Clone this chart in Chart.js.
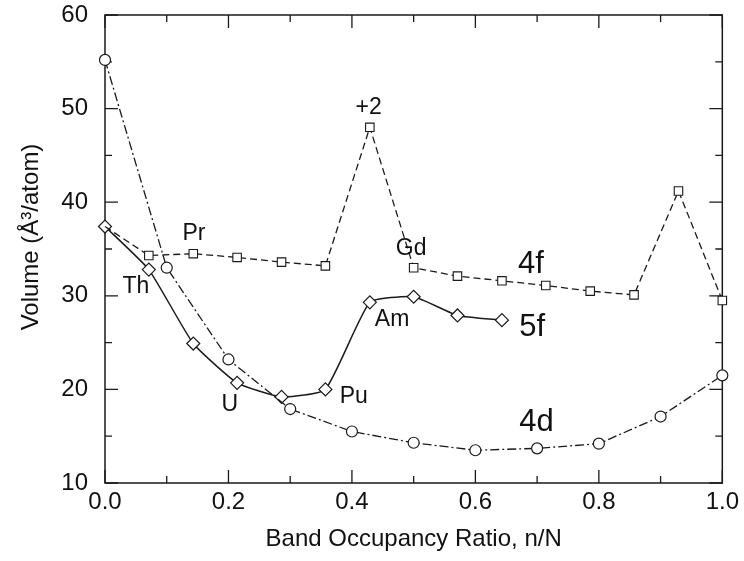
<!DOCTYPE html>
<html>
<head>
<meta charset="utf-8">
<script src="https://cdn.jsdelivr.net/npm/chart.js@4/dist/chart.umd.min.js"></script>
<style>
  html, body { margin: 0; padding: 0; background: #ffffff; }
  canvas { display: block; }
</style>
</head>
<body>
<canvas id="c" width="744" height="561"></canvas>
<script>
// ---- data ----
const x4f = [0, 0.071, 0.143, 0.214, 0.286, 0.357, 0.429, 0.5, 0.571, 0.643, 0.714, 0.786, 0.857, 0.929, 1.0];
const v4f = [37.4, 34.3, 34.5, 34.1, 33.6, 33.2, 48.0, 33.0, 32.1, 31.6, 31.1, 30.5, 30.1, 41.2, 29.5];

const x5f = [0, 0.071, 0.143, 0.214, 0.286, 0.357, 0.429, 0.5, 0.571, 0.643];
const v5f = [37.4, 32.8, 24.9, 20.7, 19.2, 20.0, 29.3, 29.9, 27.9, 27.4];

const x4d = [0, 0.1, 0.2, 0.3, 0.4, 0.5, 0.6, 0.7, 0.8, 0.9, 1.0];
const v4d = [55.2, 33.0, 23.2, 17.9, 15.5, 14.3, 13.5, 13.7, 14.2, 17.1, 21.5];

const xMajorTicks = [0, 0.2, 0.4, 0.6, 0.8, 1.0];
const xMinorTicks = [0.1, 0.3, 0.5, 0.7, 0.9];
const yMajorTicks = [10, 20, 30, 40, 50, 60];
const yMinorTicks = [15, 25, 35, 45, 55];

// text labels placed in data coordinates
const labelText = ['Pr', 'Th', 'U', 'Pu', 'Am', 'Gd', '+2', '4f', '5f', '4d'];
const labelX    = [0.144, 0.050, 0.202, 0.403, 0.465, 0.496, 0.427, 0.690, 0.692, 0.699];
const labelY    = [36.65, 30.94, 18.33, 19.24, 27.47, 35.05, 50.12, 33.4, 26.67, 16.46];
const labelBig  = [false, false, false, false, false, false, false, true, true, true];

const FONT = '"Liberation Sans", Arial, Helvetica, sans-serif';
const INK = '#1a1a1a';

function pts(xs, ys) { return xs.map((x, i) => ({ x: x, y: ys[i] })); }

const framePlugin = {
  id: 'frame',
  beforeDatasetsDraw(chart) {
    const { ctx, chartArea: a, scales: { x, y } } = chart;
    ctx.save();
    ctx.strokeStyle = INK;
    ctx.lineWidth = 1.5;
    ctx.strokeRect(a.left, a.top, a.right - a.left, a.bottom - a.top);
    ctx.lineWidth = 1.3;
    const tick = (vals, len) => {
      vals.forEach(v => {
        const px = x.getPixelForValue(v);
        ctx.beginPath();
        ctx.moveTo(px, a.bottom); ctx.lineTo(px, a.bottom - len);
        ctx.moveTo(px, a.top); ctx.lineTo(px, a.top + len);
        ctx.stroke();
      });
    };
    const tickY = (vals, len) => {
      vals.forEach(v => {
        const py = y.getPixelForValue(v);
        ctx.beginPath();
        ctx.moveTo(a.left, py); ctx.lineTo(a.left + len, py);
        ctx.moveTo(a.right, py); ctx.lineTo(a.right - len, py);
        ctx.stroke();
      });
    };
    tick(xMajorTicks, 13); tick(xMinorTicks, 7);
    tickY(yMajorTicks, 13); tickY(yMinorTicks, 7);
    ctx.restore();
  },
  afterDatasetsDraw(chart) {
    const { ctx, scales: { x, y } } = chart;
    ctx.save();
    ctx.fillStyle = '#111';
    ctx.textAlign = 'center';
    ctx.textBaseline = 'middle';
    labelText.forEach((t, i) => {
      ctx.font = (labelBig[i] ? '31px ' : '23px ') + FONT;
      ctx.fillText(t, x.getPixelForValue(labelX[i]), y.getPixelForValue(labelY[i]));
    });
    ctx.restore();
  }
};

new Chart(document.getElementById('c'), {
  type: 'scatter',
  data: {
    datasets: [
      {
        label: '4d',
        data: pts(x4d, v4d),
        showLine: true,
        borderColor: INK,
        borderWidth: 1.3,
        borderDash: [9, 3, 2, 3],
        pointStyle: 'circle',
        pointRadius: 5.5,
        pointBackgroundColor: '#ffffff',
        pointBorderColor: INK,
        pointBorderWidth: 1.2,
        clip: false
      },
      {
        label: '4f',
        data: pts(x4f, v4f),
        showLine: true,
        borderColor: INK,
        borderWidth: 1.3,
        borderDash: [7, 4],
        pointStyle: 'rect',
        pointRadius: (c) => c.dataIndex === 0 ? 0 : 6,
        pointBackgroundColor: '#ffffff',
        pointBorderColor: INK,
        pointBorderWidth: 1.1,
        clip: false
      },
      {
        label: '5f',
        data: pts(x5f, v5f),
        showLine: true,
        borderColor: INK,
        borderWidth: 1.5,
        tension: 0.15,
        pointStyle: 'rectRot',
        pointRadius: 6.5,
        pointBackgroundColor: '#ffffff',
        pointBorderColor: INK,
        pointBorderWidth: 1.2,
        clip: false
      }
    ]
  },
  options: {
    responsive: false,
    animation: false,
    events: [],
    layout: { padding: { left: 0, top: 0, right: 21, bottom: 0 } },
    plugins: { legend: { display: false }, tooltip: { enabled: false } },
    scales: {
      x: {
        type: 'linear',
        min: 0, max: 1,
        afterFit: (s) => { s.height = 78; },
        afterBuildTicks: (s) => { s.ticks = xMajorTicks.map(v => ({ value: v })); },
        grid: { display: false, drawTicks: false },
        border: { display: false },
        ticks: {
          padding: 5,
          color: '#111',
          font: { family: FONT, size: 24 },
          maxRotation: 0,
          callback: (v) => Number(v).toFixed(1)
        },
        title: {
          display: true,
          text: 'Band Occupancy Ratio, n/N',
          color: '#111',
          font: { family: FONT, size: 24 },
          padding: { top: 7, bottom: 7 }
        }
      },
      y: {
        type: 'linear',
        min: 10, max: 60,
        afterFit: (s) => { s.width = 105; s.paddingTop = 15; s.paddingBottom = 15; },
        afterBuildTicks: (s) => { s.ticks = yMajorTicks.map(v => ({ value: v })); },
        grid: { display: false, drawTicks: false },
        border: { display: false },
        ticks: {
          padding: 17,
          color: '#111',
          font: { family: FONT, size: 24 }
        },
        title: {
          display: true,
          text: '\u2003Volume (Å³/atom)',
          color: '#111',
          font: { family: FONT, size: 24 },
          padding: { top: 17, bottom: 17 }
        }
      }
    }
  },
  plugins: [framePlugin]
});
</script>
</body>
</html>
